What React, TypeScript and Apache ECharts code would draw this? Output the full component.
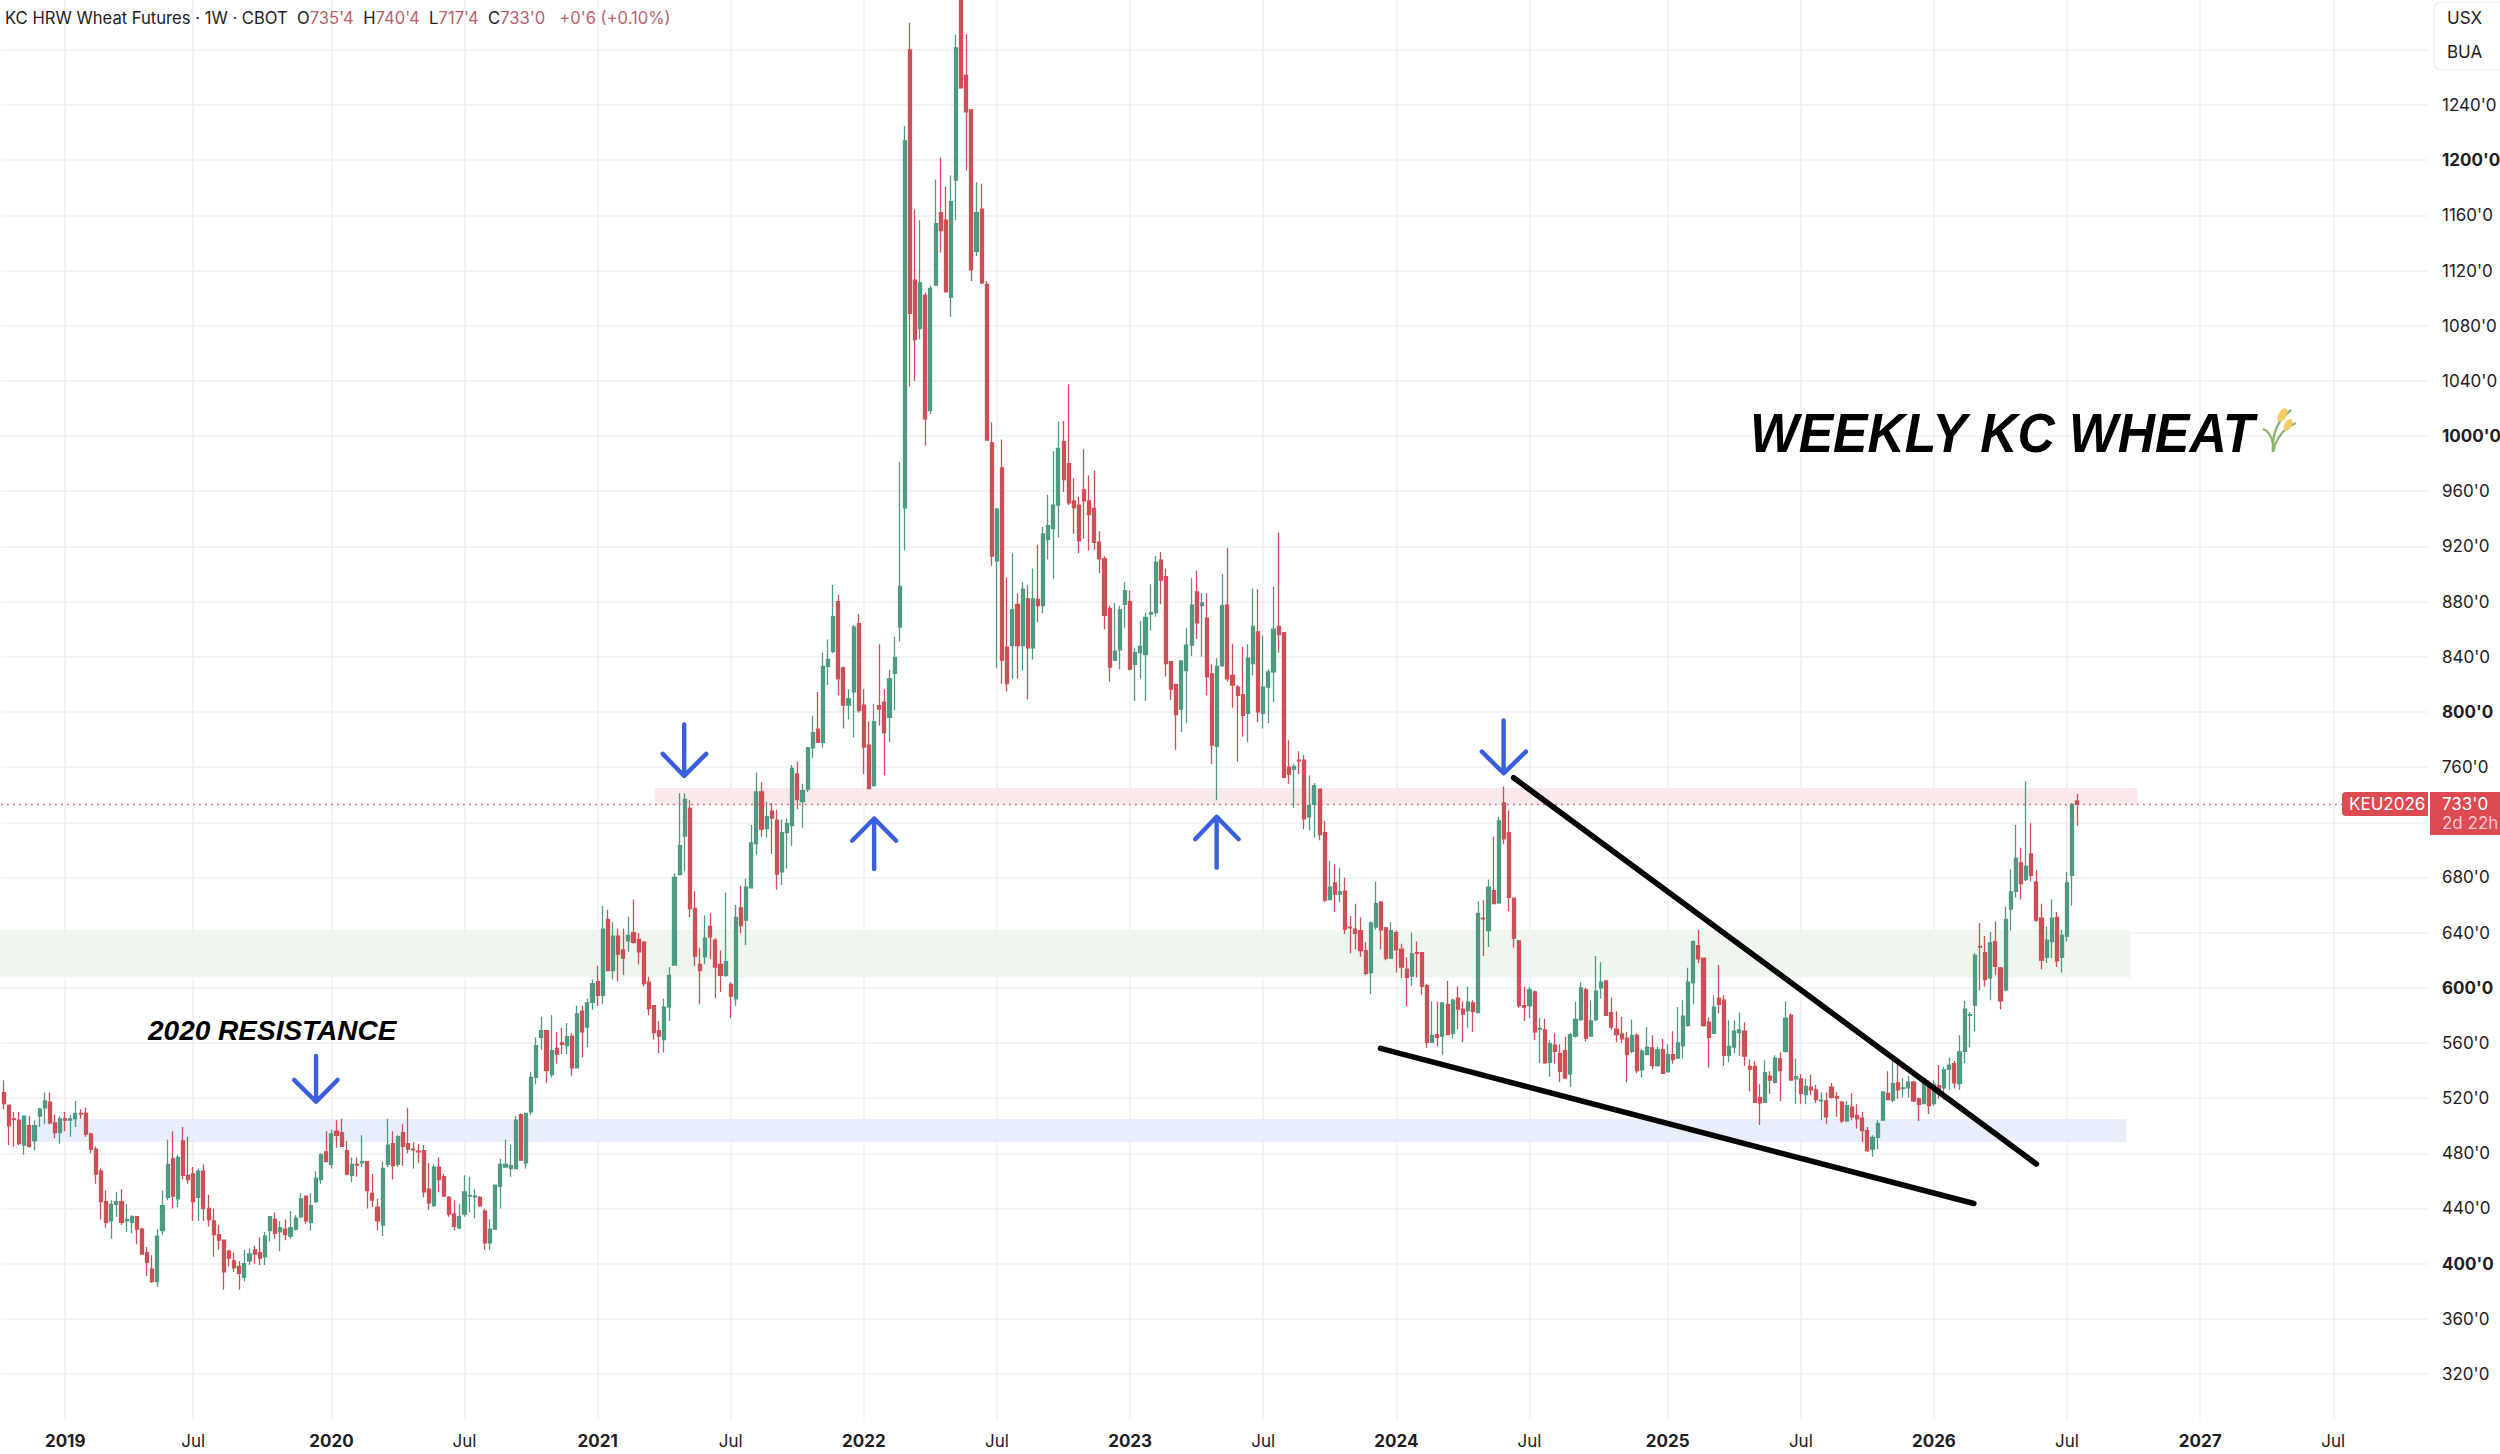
import React, { useEffect, useRef } from "react";
import * as echarts from "echarts";

// [open, close, low, high], in cents per bushel, one row per weekly candle
const WEEKS_2018_2019: number[][] = [
[524,516,512,533],[515,500,486,515],[505,504.5,485,510],[504,487,486,510],[486,507,479,507],[500,485,484,507],[489,500,482,504],[507,512,499,513],[513,518,501,524],[517,502,501,524],
[502,495,491,508],[495,505,487,507],[505,504,496,510],[504,505,492,508],[505,509,499,518],[509,508.5,505,512],[509,494,492,513],[494,483,480,495],[483,465,458,485],[467,445,432,469],
[445,430,426,453],[431,443,418,446],[443,445,434,452],[445,430,428,454],[431,432,423,443],[430,434,422,435],[434,425,414,434],[425,407,407,426],[408,401,391,412],[396,387,386,406],
[387,420,383,425],[424,442,421,453],[448,472,446,490],[476,449,440,496],[447,477,441,479],[489,464,461,499],[464,461,458,492],[465,445,431,470],[448,467,431,469],[467,440,431,472],
[440,432,427,450],[431,421,405,440],[421,417,410,428],[417,394,381,417],[409,404,398,410],[402,397,394,408],[398,393,381,402],[390,400,387,410],[402,407,399,411],[410,407,400,413],
[408,404,399,419],[405,420,399,423],[424,434,416,434],[432,422,418,437],[423,426,409,431],[425,421,417,432],[420,426,418,438],[425,433,424,435],[434,447,433,451],[449,431,429,449],
[430,442,424,451],[445,462,444,467],[461,479,458,480],[481,474,474,496],
];
const WEEKS_2020: number[][] = [
[472,494,469,497],[496,493,484,504],[495,485,485,505],[482,465,464,489],[464,472,459,477],[472,471.5,463,477],[473,474,470,493],[474,453,440,474],[451,446,441,465],[441,431,424,447],
[428,469,420,474],[472,486,470,505],[487,471,461,496],[472,492,470,493],[495,485,471,501],[487,483,480,513],[483,482.5,469,488],[481.5,481,473,487],[482,452,448,486],[454,444,439,473],
[442,470,441,472],[470,461,452,477],[463,449,449,465],[448,436,434,449],[436,427,424,446],[426,434,425,443],[436,452,434,464],[449,449.5,437,463],[448.5,449,433,454],[448,442,441,449],
[438,415,410,440],[415,425,410,432],[425,457,425,457],[456,472,440,476],[470,472,470,490],[469,471,463,486],[469,504,469,507],[508,475,475,509],[473,509,469,509],[510,535,508,539],
[535,558,530,564],[564,569,555,579],[569,540,531,569],[537,554.5,535,580],[556,552,545,568],[560,559,552,571],[558,564.5,552,574.5],[565,542,536,567],[542,581,542,587],[583,568,549.5,587],
[571.5,589,557,592],[589.5,603,584,606],
];
const WEEKS_2021: number[][] = [
[604.5,594.5,587,616],[594.5,642.5,588,659.5],[649.5,612.5,612,656.5],[612.5,637.5,606,647.5],[637.5,624.5,604.5,643],[627.5,621.5,609,643],[634,638,626,651.5],[640,633,632,664],[635,626,617,639.5],[633,603,601,634],
[604,585,580,608],[587,567.5,562.5,587.5],[569,565,552.5,576],[562.5,586,553,592],[586,609,576,615],[616.5,680,616,683],[682,703,681.5,741],[710,736.5,684.5,741],[730,657.5,651,736],[657.5,623,616,670],
[617,612.5,588,629],[622.5,636,617,652.5],[644.5,637,621,654],[634.5,615,592.5,636],[617,609,597,627],[609,619,608,669],[602.5,594,578,604],[592,651,587,660],[658,645,639.5,674],[649,673,631,679],
[672.5,705,672,718],[704.5,742,696.5,756],[742,715,709.5,749],[715.5,724,709,735],[728,723,697,734],[721.5,682.5,671,729],[684,712.5,674.5,722],[712.5,719,686.5,722.5],[717.5,759,703,761.5],[755,736.5,729.5,764],
[735,743,716,748],[744,774,742,774.5],[774,785,766.5,797],[787.5,778,778,814.5],[778,833,774,843],[833,838,819.5,852.5],[844,869,842.5,892],[880,824,812,885],[832,805,788,833],[805,809.5,794.5,816.5],
[814.5,861.5,781.5,863],[864,801,799.5,871],
];
const WEEKS_2022: number[][] = [
[805,774.5,755,816.5],[776,744.5,744,793],[746.5,793,746,806],[804.5,802,790,849],[807,785,754,816.5],[796,824,778,830.5],[828,839.5,801,854.5],[861.5,891,851,981],[948,1214,917,1225],[1280,1089,1036,1299.5],
[1113,1070,1040,1164.5],[1078,1111,1070,1156.5],[1102,1012.5,993,1104],[1018.5,1107,1016,1109],[1109.5,1154,1109,1186],[1162,1149,1133,1202],[1156.5,1104.5,1104,1181],[1100.5,1170,1086.5,1189],[1185.5,1281.5,1156.5,1291],[1330,1252.5,1252.5,1345],
[1261.5,1235,1192.5,1291.5],[1236.5,1120.5,1112.5,1237],[1134,1162,1130.5,1184],[1164.5,1111,1110,1183],[1110,997,997,1112.5],[995,913,906,1010],[909.5,947,832,948],[977,837.5,820.5,997.5],[847,820.5,815,897.5],[848,874,824,915],
[878,848,824,886],[848,889,830,894],[882,846.5,809,892],[846.5,882,838,904],[881.5,877,865,921],[877,929,871.5,934],[925,935,910.5,957.5],[933,950,896.5,989],[950,991,926.5,1010.5],[996,968.5,959.5,1011],
[980,951.5,950,1037.5],[953,948,929,969.5],[950,924,915,956],[961,953,925.5,990.5],[953,943,917,971.5],[947.5,923,917.5,975],[923,911,900.5,931],[911,870,860,913],[875,832.5,822,877],[837.5,844,837,879],
[845,874,831,877],[878,888,861,894],
];
const WEEKS_2023: number[][] = [
[880,831,830,888],[834.5,843,808,846.5],[843,847.5,824,866],[841.5,868.5,808,872],[871,872,859,892.5],[872,908.5,869,913],[910,895.5,878,916],[898,835,825.5,904],[836.5,816.5,808.5,837],[820,798,772.5,820],
[802,837,785.5,837.5],[830,848.5,792,861],[848.5,877.5,840.5,897],[887,864.5,853,902.5],[877,879,840,886],[868,825.5,812,886],[827.5,776,762,834.5],[775,833,736,839],[833.5,877,832.5,900],[877.5,824,822,919],
[826.5,819.5,803,849.5],[818,812,764,819.5],[812.5,797.5,782,847],[799,839,778,849],[835,862,826.5,889.5],[858,800,792.5,889],[799,818,788,855.5],[818,829,792,831],[829,860,807,891],[862,856,843,930],
[857.5,752.5,752,858],[760,755,748,779.5],[758.5,760.5,730.5,762],[765,764.5,755,771.5],[765,722.5,715,769],[724,732,714,754],[733,746.5,709,748.5],[744,711,707,744],[712.5,663.5,662,721],[664,673,664,692],
[676,668,655,689.5],[668,669.5,662,687],[670,642.5,639,680],[644,643.5,625,652],[642.5,639.5,628,661],[641.5,627,622.5,651],[627,610.5,609,633],[611,647,595.5,648],[644,661,642,677],[662,642,628,663],
[643.5,621.5,620,644],[621.5,641.5,621,647.5],
];
const WEEKS_2024: number[][] = [
[640,627.5,611,641.5],[628,615,607,632],[613.5,607.5,586.5,622],[608.5,624.5,601.5,640],[625.5,625,607.5,633.5],[625.5,601,595,626],[601.5,560.5,556.5,603],[560.5,565.5,560,590],[566,564,557.5,590],[565,589,551.5,589.5],
[588,566,565.5,605],[567,591,563.5,592],[592.5,584.5,570,601],[584.5,581,560.5,590],[583.5,589.5,571,601],[589,583,568,591],[582,654,582,662.5],[650.5,650,623,663.5],[641.5,673,629.5,678.5],[670.5,661,661,709.5],
[661.5,721,661,724],[734,708,704,746],[712.5,665.5,655.5,728.5],[665,636,629,665.5],[634,587,585.5,634.5],[587,586,576,600.5],[587,598.5,578,600.5],[597,568,562,598],[570,570.5,545.5,578.5],[569.5,545.5,545,577.5],
[546,559.5,535.5,562],[558.5,554,545,567],[552.5,539.5,531.5,559],[554.5,534.5,534,564.5],[537.5,566,528,567],[565,577,564,590],[577,600,576,604],[598.5,563.5,561,600],[565,576,565,591],[577,597.5,576,623],
[600,604,592,618.5],[605,580,579.5,605],[582,571.5,569.5,593],[570,566,560.5,583],[566.5,563,560,579],[563.5,551.5,531.5,568],[554,565.5,552.5,577],[565.5,540,538,567],[540.5,554,535,555.5],[551.5,557,551,571.5],
[556.5,543.5,541,565.5],[543.5,555,543,557.5],
];
const WEEKS_2025: number[][] = [
[555,538,537.5,563],[539,551.5,539,559],[551.5,548,545,568.5],[549,560,548.5,586],[558,579.5,549,591],[572.5,604,572,614.5],[603.5,633.5,588,634.5],[630.5,621,618,642],[621.5,572.5,572,621.5],[575,564,542,578.5],
[567,586,566.5,594.5],[592.5,588,581.5,616.5],[591,551,543.5,594.5],[551,557.5,546,576.5],[557,568.5,552.5,576.5],[567.5,569.5,550.5,582],[568.5,550.5,543.5,575],[543,541,525,548],[543,517,517,547],[520.5,516.5,500.5,530],
[517,538.5,516.5,547.5],[536,533,523,539.5],[531.5,549,530.5,551],[548.5,540,518,553],[554,578,553,590],[580,533,533,581.5],[534,535.5,516,548.5],[534,523.5,516,537.5],[522.5,528.5,515.5,534],[528,526,522,537],
[526,519,516.5,529.5],[518,518.5,504,524],[518,506.5,501.5,524],[528,520.5,519.5,531],[521,520,506.5,524.5],[517,503.5,502,518],[503.5,514.5,502.5,518],[513.5,506.5,504,523.5],[507.5,505,498,515.5],[505.5,496.5,488,510],
[496.5,482,481,499],[483,491.5,477.5,493],[491.5,501.5,483,504],[504,524.5,504,524.5],[523.5,519,518.5,539.5],[518.5,530.5,517,549.5],[531,526,519.5,548.5],[527,527.5,520.5,534.5],[527.5,531.5,520.5,536],[531.5,518,517,532.5],
[519.5,515.5,503.5,520.5],[516,534,515.5,535],
];
const WEEKS_2026: number[][] = [
[531,514.5,508.5,533],[516,530,514.5,533],[529,523,519.5,544],[527.5,540.5,519,542.5],[541,544,526,549.5],[545,531,527,547],[530.5,553.5,526,565.5],[554,584.5,545.5,590.5],[580,580.5,557,582.5],[587.5,623.5,568.5,625],
[630,629.5,598,647],[625.5,606,601,637.5],[607,632.5,591,640.5],[633.5,615.5,609,648],[614.5,590.5,584.5,615],[598.5,649.5,597.5,659],[657,669.5,641.5,686],[670,694,665.5,718],[690.5,675.5,664,701.5],[678.5,688,677.5,749.5],
[697,681.5,677,719.5],[676.5,649,647.5,685.5],[650.5,620,613.5,661],[622,634.5,618,644.5],[633.5,650.5,621.5,664],[651,619.5,615,655],[622,638,611,642],[637.5,676,633.5,684],[681.5,733,659.5,734],[735.5,733,717.5,740.5],
];
const WEEKLY: number[][] = [...WEEKS_2018_2019, ...WEEKS_2020, ...WEEKS_2021, ...WEEKS_2022, ...WEEKS_2023, ...WEEKS_2024, ...WEEKS_2025, ...WEEKS_2026];

const WEEK_SLOTS = 474; // weeks across the plot, including the empty future
const CATEGORIES = Array.from({ length: WEEK_SLOTS }, (_, i) => `W${i}`);
const TIME_TICK_WEEKS = [12, 37, 64, 90, 116, 142, 168, 194, 220, 246, 272, 298, 325, 351, 377, 403, 429, 455];
const TIME_TICK_LABELS = ["2019", "Jul", "2020", "Jul", "2021", "Jul", "2022", "Jul", "2023", "Jul", "2024", "Jul", "2025", "Jul", "2026", "Jul", "2027", "Jul"];

const PRICE_LINES = [320, 360, 400, 440, 480, 520, 560, 600, 640, 680, 720, 760, 800, 840, 880, 920, 960, 1000, 1040, 1080, 1120, 1160, 1200, 1240, 1280];
// 720 sits behind the last-price tag and 1280 behind the currency box, so neither is labelled
const PRICE_LABELS = PRICE_LINES.filter((p) => p <= 1240 && p !== 720);

const LAST_PRICE = 733;

// zones: week from, week to, price low, price high, colour
const ZONE_FROM = [127.7, -0.3, 6.8];
const ZONE_TO = [417.25, 415.9, 415.1];
const ZONE_LOW = [732.5, 607.6, 488.4];
const ZONE_HIGH = [744.9, 641.9, 504.9];
const ZONE_COLORS = ["#fae9ea", "#eef6ee", "#e8eefb"];

// arrows: centre week, left arm week, right arm week, tail price, tip price, arm price
const ARROW_WEEK = [61.5, 133.4, 170.5, 237.4, 293.45];
const ARROW_ARM_LEFT = [57.2, 129.2, 166.2, 233.2, 289.2];
const ARROW_ARM_RIGHT = [65.7, 137.7, 174.8, 241.7, 297.8];
const ARROW_TAIL = [550.6, 790.9, 686.1, 687.1, 793.8];
const ARROW_TIP = [517.4, 753.6, 722.7, 724, 755.5];
const ARROW_ARM = [533.2, 769.6, 706.6, 707.7, 771.2];

const TREND_UPPER = [[295.4, 752.3], [397.5, 472.3]];
const TREND_LOWER = [[269.4, 556.1], [385.3, 443.6]];

const FONT = "Inter, sans-serif";
const GREEN = "#4e9a83";
const RED = "#cf4f57";
const HEADER_RED = "#bb5f6b";

function option(): any {
  const tickSet = new Set(TIME_TICK_WEEKS);
  const showTick = (i: number) => tickSet.has(i);
  const arrowSeries = ARROW_WEEK.map((w, i) => ({
    type: "line",
    xAxisIndex: 1,
    yAxisIndex: 0,
    z: 6,
    silent: true,
    showSymbol: false,
    symbol: "none",
    lineStyle: { color: "#3a5ee0", width: 4.4, cap: "round", join: "round" },
    data: [
      [w, ARROW_TAIL[i]],
      [w, ARROW_TIP[i]],
      [ARROW_ARM_LEFT[i], ARROW_ARM[i]],
      [w, ARROW_TIP[i]],
      [ARROW_ARM_RIGHT[i], ARROW_ARM[i]],
    ],
  }));
  const trendSeries = [TREND_UPPER, TREND_LOWER].map((d) => ({
    type: "line",
    xAxisIndex: 1,
    yAxisIndex: 0,
    z: 6,
    silent: true,
    showSymbol: false,
    symbol: "none",
    lineStyle: { color: "#050505", width: 5.6, cap: "round" },
    data: d,
  }));
  return {
    animation: false,
    backgroundColor: "#ffffff",
    grid: { left: 1.2, top: 0, width: 2426.8, height: 1419, containLabel: false, outerBoundsMode: "none" },
    xAxis: [
      {
        type: "category",
        data: CATEGORIES,
        boundaryGap: true,
        axisLine: { show: false },
        axisTick: { show: false },
        splitLine: { show: true, alignWithLabel: true, interval: showTick, lineStyle: { color: "#f1f1f3", width: 1.5 } },
        axisLabel: {
          interval: showTick,
          margin: 13,
          fontFamily: FONT,
          fontSize: 17,
          color: "#1f2024",
          hideOverlap: false,
          formatter: (_: string, i: number) => {
            const t = TIME_TICK_WEEKS.indexOf(i);
            if (t < 0) return "";
            const s = TIME_TICK_LABELS[t];
            return s === "Jul" ? s : `{y|${s}}`;
          },
          rich: { y: { fontFamily: FONT, fontSize: 17, fontWeight: 700, color: "#1f2024" } },
        },
      },
      { type: "value", min: 0, max: WEEK_SLOTS, show: false, splitLine: { show: false } },
    ],
    yAxis: {
      type: "value",
      position: "right",
      min: 287.37,
      max: 1316.15,
      axisLine: { show: false },
      axisTick: { show: false, customValues: PRICE_LINES },
      splitLine: { show: true, lineStyle: { color: "#f1f1f3", width: 1.5 } },
      axisLabel: {
        customValues: PRICE_LABELS,
        margin: 14,
        fontFamily: FONT,
        fontSize: 17,
        color: "#1f2024",
        formatter: (v: number) => (v % 200 === 0 ? `{b|${v}'0}` : `${v}'0`),
        rich: { b: { fontFamily: FONT, fontSize: 17, fontWeight: 700, color: "#1f2024" } },
      },
    },
    series: [
      {
        type: "custom",
        xAxisIndex: 1,
        yAxisIndex: 0,
        z: 1,
        silent: true,
        data: ZONE_FROM.map((f, i) => [f, ZONE_TO[i], ZONE_LOW[i], ZONE_HIGH[i], i]),
        renderItem: (_: any, api: any) => {
          const a = api.coord([api.value(0), api.value(3)]);
          const b = api.coord([api.value(1), api.value(2)]);
          return {
            type: "rect",
            shape: { x: a[0], y: a[1], width: b[0] - a[0], height: b[1] - a[1] },
            style: { fill: ZONE_COLORS[api.value(4)] },
          };
        },
      },
      {
        type: "candlestick",
        xAxisIndex: 0,
        yAxisIndex: 0,
        z: 3,
        barWidth: 3.6,
        silent: true,
        data: WEEKLY,
        itemStyle: { color: GREEN, borderColor: GREEN, color0: RED, borderColor0: RED, borderWidth: 1.3 },
        markLine: {
          silent: true,
          symbol: "none",
          label: { show: false },
          lineStyle: { color: "#c9565d", width: 1.3, type: [1.5, 4.5] },
          data: [{ yAxis: LAST_PRICE }],
        },
      },
      ...arrowSeries,
      ...trendSeries,
    ],
    graphic: [
      {
        type: "text",
        x: 5,
        y: 9,
        z: 20,
        style: {
          text: "{k|KC HRW Wheat Futures · 1W · CBOT  O}{r|735'4}{k|  H}{r|740'4}{k|  L}{r|717'4}{k|  C}{r|733'0}{r|   +0'6 (+0.10%)}",
          rich: {
            k: { fontFamily: FONT, fontSize: 16.6, fill: "#1f2024", fontWeight: 400 },
            r: { fontFamily: FONT, fontSize: 16.6, fill: HEADER_RED, fontWeight: 400 },
          },
        },
      },
      {
        type: "rect",
        z: 20,
        shape: { x: 2434, y: 2, width: 80, height: 68, r: 7 },
        style: { fill: "#ffffff", stroke: "#ececee", lineWidth: 1.2 },
      },
      { type: "text", z: 21, x: 2447, y: 9, style: { text: "USX", fontFamily: FONT, fontSize: 17, fill: "#1f2024" } },
      { type: "text", z: 21, x: 2447, y: 43, style: { text: "BUA", fontFamily: FONT, fontSize: 17, fill: "#1f2024" } },
      { type: "rect", z: 20, shape: { x: 2342, y: 792, width: 86, height: 24, r: [4, 0, 0, 4] }, style: { fill: "#dc4a52" } },
      { type: "text", z: 21, x: 2349, y: 795, style: { text: "KEU2026", fontFamily: FONT, fontSize: 17, fill: "#ffffff" } },
      { type: "rect", z: 20, shape: { x: 2430, y: 792, width: 70, height: 43 }, style: { fill: "#dc4a52" } },
      { type: "text", z: 21, x: 2442, y: 795, style: { text: "733'0", fontFamily: FONT, fontSize: 17, fill: "#ffffff" } },
      { type: "text", z: 21, x: 2442, y: 814, style: { text: "2d 22h", fontFamily: FONT, fontSize: 17, fill: "#fbc9cc" } },
      {
        type: "text",
        z: 21,
        x: 148,
        y: 1016,
        style: { text: "2020 RESISTANCE", fontFamily: "Liberation Sans", fontSize: 28, fontWeight: 700, fontStyle: "italic", fill: "#000000" },
      },
      {
        type: "text",
        z: 21,
        x: 1750,
        y: 405,
        scaleY: 1.06,
        style: { text: "WEEKLY KC WHEAT", fontFamily: "Liberation Sans", fontSize: 51.6, fontWeight: 700, fontStyle: "italic", fill: "#000000" },
      },
      {
        type: "group",
        z: 21,
        children: [
          { type: "bezierCurve", z: 21, shape: { x1: 2273, y1: 452, x2: 2291, y2: 410, cpx1: 2271, cpy1: 425 }, style: { stroke: "#8db56c", lineWidth: 2.4, fill: "none" } },
          { type: "bezierCurve", z: 21, shape: { x1: 2273, y1: 452, x2: 2296, y2: 423, cpx1: 2278, cpy1: 430 }, style: { stroke: "#8db56c", lineWidth: 2.2, fill: "none" } },
          { type: "bezierCurve", z: 21, shape: { x1: 2274, y1: 450, x2: 2263, y2: 429, cpx1: 2272, cpy1: 432 }, style: { stroke: "#8db56c", lineWidth: 2.2, fill: "none" } },
          { type: "ellipse", z: 22, x: 2282.5, y: 415, rotation: -0.5, shape: { cx: 0, cy: 0, rx: 4, ry: 7.5 }, style: { fill: "#f0cd63" } },
          { type: "ellipse", z: 22, x: 2288, y: 425, rotation: -0.5, shape: { cx: 0, cy: 0, rx: 3.5, ry: 6.5 }, style: { fill: "#f0cd63" } },
        ],
      },
    ],
  };
}

export default function App() {
  const ref = useRef<HTMLDivElement>(null);
  useEffect(() => {
    document.body.style.margin = "0";
    const chart = echarts.init(ref.current!, undefined, { renderer: "svg" });
    chart.setOption(option());
    return () => chart.dispose();
  }, []);
  return <div ref={ref} style={{ width: 2500, height: 1454, background: "#fff", overflow: "hidden" }} />;
}
